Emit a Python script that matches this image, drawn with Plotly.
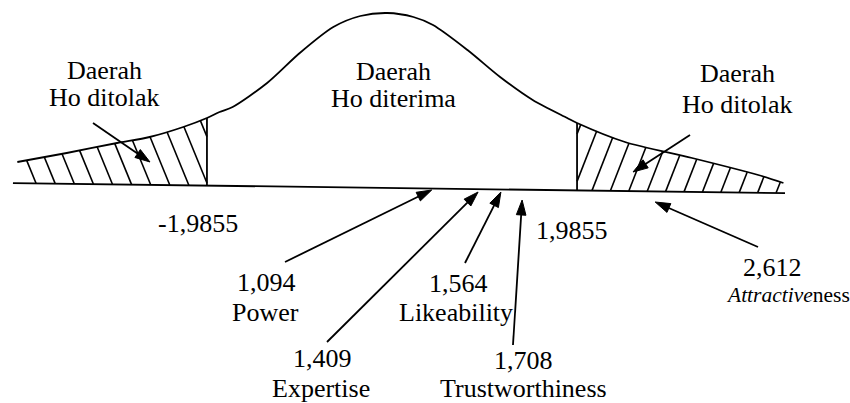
import numpy as np
import plotly.graph_objects as go

# ---------------- data ----------------
crit_value = 1.9855
crit_labels = ["-1,9855", "1,9855"]
var_names = ["Power", "Expertise", "Likeability", "Trustworthiness", "<i>Attractive</i>ness"]
t_values = [1.094, 1.409, 1.564, 1.708, 2.612]
t_labels = ["1,094", "1,409", "1,564", "1,708", "2,612"]
region_top = ["Daerah", "Daerah", "Daerah"]
region_bottom = ["Ho ditolak", "Ho diterima", "Ho ditolak"]
# schematic curve as drawn (t position, curve height)
curve_t = [-4.02, -3.49, -2.95, -2.60, -2.24, -1.9855, -1.85, -1.71, -1.34, -0.99, -0.63, -0.34,
           -0.05, 0.23, 0.44, 0.81, 1.16, 1.51, 1.88, 1.9855, 2.50, 3.22, 3.93, 4.20]
curve_h = [26, 35, 45, 51, 61, 70, 76, 81, 105, 135, 161, 172,
           175, 171, 163, 138, 111, 88, 70, 65, 46, 30, 13, 5]

# ---------------- layout constants ----------------
W, H = 850, 403
X0, PPT, BASE = 392.0, 93.2, 188.0      # pixel of t=0, px per t unit, baseline pixel row
TILT = 0.013                             # scan tilt of the baseline
FAMILY = "'Times New Roman', 'Liberation Serif', 'DejaVu Serif', serif"
FONT = dict(family=FAMILY, size=26, color="black")
FONT_SMALL = dict(family=FAMILY, size=21.5, color="black")
LW = 1.8
BASE_T = (-4.067, 4.217)
# schematic placement of the test statistics along the axis
SCHEM_A, SCHEM_B, SCHEM_V0 = 517.6, 147.2, 1.6774


def tx(px):
    return (px - X0) / PPT


def ty(py):
    return BASE - py


def base_y(t):
    return -TILT * PPT * np.asarray(t)


def curve_at(t):
    return np.interp(t, curve_t, curve_h)


fig = go.Figure()

# curve
fig.add_trace(go.Scatter(x=curve_t, y=curve_h, mode="lines",
                         line=dict(color="black", width=LW, shape="spline", smoothing=0.8),
                         hoverinfo="skip"))
# baseline
fig.add_trace(go.Scatter(x=list(BASE_T), y=list(base_y(BASE_T)), mode="lines",
                         line=dict(color="black", width=LW), hoverinfo="skip"))
# critical verticals
vx, vy = [], []
for c in (-crit_value, crit_value):
    vx += [c, c, None]
    vy += [float(base_y(c)), float(curve_at(c)), None]
fig.add_trace(go.Scatter(x=vx, y=vy, mode="lines", line=dict(color="black", width=LW),
                         hoverinfo="skip"))


# hatching
def hatch(bottoms_px, k, lo_t, hi_t):
    hx, hy = [], []
    ys = np.arange(-15, 200, 0.2)
    for bp in bottoms_px:
        xp = bp + k * ys
        t = xp / PPT
        inside = (t >= lo_t) & (t <= hi_t) & (ys >= base_y(t)) & (ys <= curve_at(t))
        if inside.sum() < 2:
            continue
        idx = np.where(inside)[0]
        hx += [t[idx[0]], t[idx[-1]], None]
        hy += [ys[idx[0]], ys[idx[-1]], None]
    return hx, hy


lx, ly = hatch([-202 + 19 * k for k in range(-12, 3)], -0.41, curve_t[0], -crit_value)
rx, ry = hatch([201 + 18.5 * k for k in range(-3, 12)], 0.39, crit_value, curve_t[-1])
fig.add_trace(go.Scatter(x=lx + rx, y=ly + ry, mode="lines",
                         line=dict(color="black", width=1.6), hoverinfo="skip"))

# arrows (page pixel tail -> tip)
arrows = [((93, 123), (150, 162)), ((690, 135), (633, 172))]
tails = [(285, 262), (327, 342), (465, 263), (513, 345), (758, 247)]
tip_rows = [190, 192, 192, 200, 202]
for v, tail, row in zip(t_values, tails, tip_rows):
    arrows.append((tail, (SCHEM_A + SCHEM_B * (v - SCHEM_V0), row)))

ax_, ay_, hx_, hy_ = [], [], [], []
HL, HW = 15.0, 4.8
for (x1, y1), (x2, y2) in arrows:
    d = np.array([x2 - x1, y2 - y1], float)
    L = np.hypot(*d)
    u = d / L
    n = np.array([-u[1], u[0]])
    b = np.array([x2, y2]) - u * HL
    ax_ += [tx(x1), tx(b[0] + u[0] * 2), None]
    ay_ += [ty(y1), ty(b[1] + u[1] * 2), None]
    p1 = b + n * HW
    p2 = b - n * HW
    hx_ += [tx(x2), tx(p1[0]), tx(p2[0]), tx(x2), None]
    hy_ += [ty(y2), ty(p1[1]), ty(p2[1]), ty(y2), None]
fig.add_trace(go.Scatter(x=ax_, y=ay_, mode="lines", line=dict(color="black", width=LW),
                         hoverinfo="skip"))
fig.add_trace(go.Scatter(x=hx_, y=hy_, mode="lines", fill="toself", fillcolor="black",
                         line=dict(color="black", width=1), hoverinfo="skip"))

# text labels (page pixel centres)
texts = []
reg_pos = [((104, 70), (104, 97)), ((393, 71), (393, 98)), ((737, 73), (737, 104))]
for top, bot, (p1, p2) in zip(region_top, region_bottom, reg_pos):
    texts += [(top, p1, FONT), (bot, p2, FONT)]
texts += [(crit_labels[0], (198, 223), FONT), (crit_labels[1], (572, 230), FONT)]
val_pos = [(266, 282), (322, 358), (458, 283), (523, 360), (772, 267)]
name_pos = [(265, 312), (321, 388), (456, 312), (523, 388), (788, 295)]
name_font = [FONT, FONT, FONT, FONT, FONT_SMALL]
for lab, nm, p1, p2, nf in zip(t_labels, var_names, val_pos, name_pos, name_font):
    texts += [(lab, p1, FONT), (nm, p2, nf)]
for s, (px, py), f in texts:
    fig.add_annotation(x=tx(px), y=ty(py), text=s, showarrow=False, font=f,
                       xanchor="center", yanchor="middle")

fig.update_layout(width=W, height=H, margin=dict(l=0, r=0, t=0, b=0),
                  font=FONT,
                  paper_bgcolor="white", plot_bgcolor="white", showlegend=False,
                  xaxis=dict(range=[tx(0), tx(W)], visible=False, fixedrange=True),
                  yaxis=dict(range=[ty(H), ty(0)], visible=False, fixedrange=True))
fig.write_html("out.html", config={"displayModeBar": False},
               post_script="document.body.style.margin='0px';")
